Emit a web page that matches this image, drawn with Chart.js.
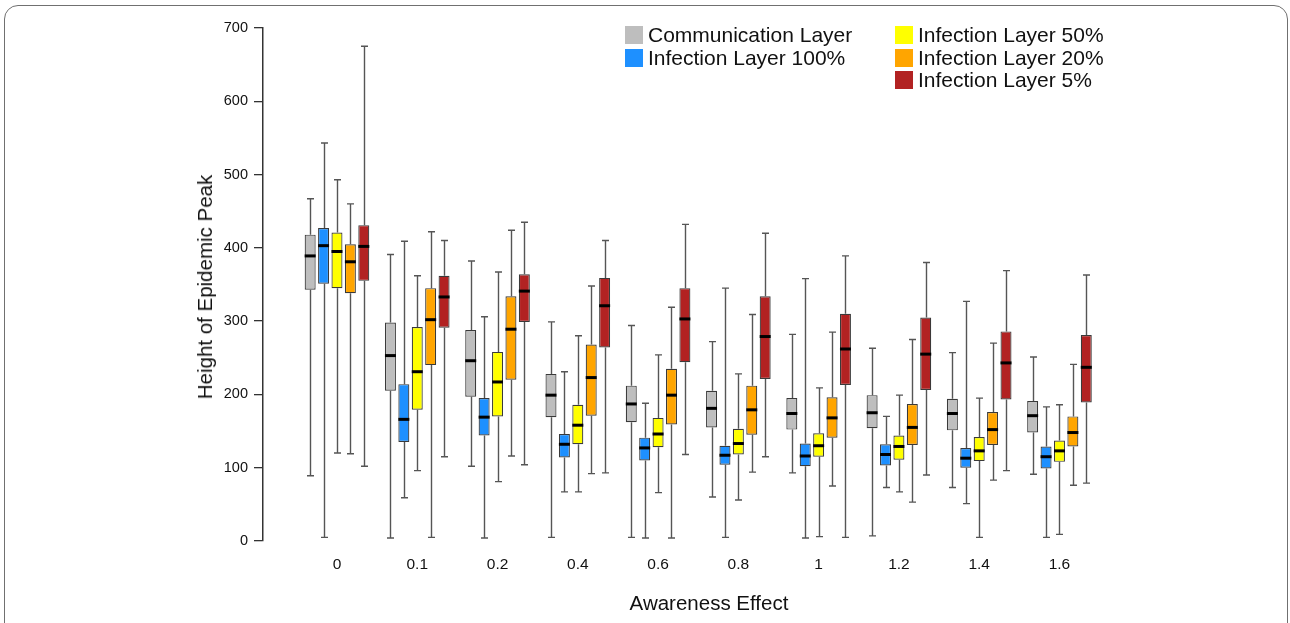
<!DOCTYPE html>
<html>
<head>
<meta charset="utf-8">
<script src="https://cdn.jsdelivr.net/npm/chart.js@4.4.1/dist/chart.umd.min.js"></script>
<style>
  html, body { margin: 0; padding: 0; background: #fff; }
  body { width: 1290px; height: 623px; position: relative; overflow: hidden; font-family: "Liberation Sans", Arial, sans-serif; }
  #frame { position: absolute; left: 4px; top: 5px; width: 1282px; height: 700px; border: 1.5px solid #707070; border-radius: 14px; }
  #peakChart { position: absolute; left: 0; top: 0; }
  .axisTitle { position: absolute; font-size: 20.5px; color: #111; white-space: nowrap; }
  #yTitle { left: 205px; top: 287px; transform: translate(-50%, -50%) rotate(-90deg); }
  #xTitle { left: 709px; top: 603px; transform: translate(-50%, -50%); }
  .legendCol { position: absolute; top: 24px; }
  .legendItem { display: flex; align-items: center; height: 22.6px; font-size: 21px; color: #111; white-space: nowrap; }
  .legendItem span.swatch { display: inline-block; width: 18px; height: 18px; margin-right: 5px; }
</style>
</head>
<body>
<div id="frame"></div>
<canvas id="peakChart" width="1290" height="623"></canvas>
<div class="axisTitle" id="yTitle">Height of Epidemic Peak</div>
<div class="axisTitle" id="xTitle">Awareness Effect</div>
<div class="legendCol" id="legendLeft" style="left:625px"></div>
<div class="legendCol" id="legendRight" style="left:895px"></div>
<script>
// awareness effect values on the x axis
const awareness = ['0', '0.1', '0.2', '0.4', '0.6', '0.8', '1', '1.2', '1.4', '1.6'];

// each entry: [whisker low, q1, median, q3, whisker high]
const communicationLayer = [
  [89, 343, 389, 418, 467], [4, 205, 253, 298, 391], [102, 197, 246, 288, 382],
  [5, 169, 199, 228, 299], [5, 162, 187, 212, 294], [60, 155, 181, 205, 272],
  [93, 152, 174, 195, 282], [7, 154, 175, 199, 263], [73, 151, 174, 194, 257],
  [91, 148, 171, 191, 251]
];
const infection100 = [
  [5, 351, 403, 427, 543], [59, 135, 166, 214, 409], [4, 144, 169, 195, 306],
  [67, 114, 132, 146, 231], [4, 110, 127, 141, 188], [5, 104, 117, 130, 345],
  [4, 102, 116, 133, 358], [73, 103, 118, 132, 170], [51, 100, 113, 127, 327],
  [5, 99, 115, 129, 183]
];
const infection50 = [
  [120, 345, 395, 421, 493], [96, 179, 231, 292, 362], [81, 170, 217, 258, 367],
  [67, 132, 158, 186, 280], [66, 128, 146, 168, 254], [56, 118, 133, 153, 228],
  [6, 115, 130, 147, 209], [67, 111, 129, 144, 199], [5, 109, 123, 142, 195],
  [9, 108, 123, 137, 186]
];
const infection20 = [
  [119, 338, 381, 405, 460], [5, 240, 302, 345, 422], [116, 220, 289, 334, 424],
  [92, 171, 223, 268, 348], [4, 159, 199, 235, 319], [94, 145, 179, 212, 309],
  [75, 141, 168, 196, 285], [53, 131, 155, 187, 275], [83, 131, 152, 176, 270],
  [76, 129, 148, 170, 241]
];
const infection5 = [
  [102, 355, 402, 431, 675], [115, 291, 333, 362, 410], [104, 299, 341, 364, 435],
  [93, 264, 321, 359, 410], [118, 244, 303, 345, 432], [115, 221, 279, 334, 420],
  [5, 213, 262, 310, 389], [90, 206, 255, 305, 380], [96, 193, 243, 286, 369],
  [79, 189, 237, 281, 363]
];

const seriesNames = ['Communication Layer', 'Infection Layer 100%', 'Infection Layer 50%', 'Infection Layer 20%', 'Infection Layer 5%'];
const seriesColors = ['#bebebe', '#1e90ff', '#ffff00', '#ffa500', '#b22222'];
const seriesStats = [communicationLayer, infection100, infection50, infection20, infection5];

// legend: two columns like the original
seriesNames.forEach((name, i) => {
  const col = document.getElementById(i < 2 ? 'legendLeft' : 'legendRight');
  const item = document.createElement('div');
  item.className = 'legendItem';
  item.innerHTML = `<span class="swatch" style="background:${seriesColors[i]}"></span>${name}`;
  col.appendChild(item);
});

// whiskers under the boxes, medians on top
const boxPlotParts = {
  id: 'boxPlotParts',
  beforeDatasetsDraw(chart) {
    const ctx = chart.ctx;
    const yScale = chart.scales.y;
    ctx.save();
    ctx.strokeStyle = '#555';
    ctx.lineWidth = 1.4;
    chart.data.datasets.forEach((ds, d) => {
      chart.getDatasetMeta(d).data.forEach((bar, i) => {
        const s = ds.stats[i];
        const x = Math.round(bar.x) + 0.5;
        const yLow = yScale.getPixelForValue(s[0]);
        const yHigh = yScale.getPixelForValue(s[4]);
        const yQ1 = yScale.getPixelForValue(s[1]);
        const yQ3 = yScale.getPixelForValue(s[3]);
        ctx.beginPath();
        ctx.moveTo(x, yQ1); ctx.lineTo(x, yLow);
        ctx.moveTo(x, yQ3); ctx.lineTo(x, yHigh);
        ctx.moveTo(x - 3.5, yLow); ctx.lineTo(x + 3.5, yLow);
        ctx.moveTo(x - 3.5, yHigh); ctx.lineTo(x + 3.5, yHigh);
        ctx.stroke();
      });
    });
    ctx.restore();
  },
  afterDatasetsDraw(chart) {
    const ctx = chart.ctx;
    const yScale = chart.scales.y;
    ctx.save();
    ctx.strokeStyle = '#000';
    ctx.lineWidth = 3;
    chart.data.datasets.forEach((ds, d) => {
      chart.getDatasetMeta(d).data.forEach((bar, i) => {
        const y = yScale.getPixelForValue(ds.stats[i][2]);
        ctx.beginPath();
        ctx.moveTo(bar.x - bar.width / 2, y);
        ctx.lineTo(bar.x + bar.width / 2, y);
        ctx.stroke();
      });
    });
    ctx.restore();
  }
};

const datasets = seriesStats.map((stats, k) => ({
  label: seriesNames[k],
  data: stats.map((s, i) => ({ x: i, y: [s[1], s[3]] })),
  stats: stats,
  backgroundColor: seriesColors[k],
  borderColor: '#3a3a3a',
  borderWidth: 1.2,
  borderSkipped: false,
  categoryPercentage: 0.835,
  barPercentage: 0.82
}));

new Chart(document.getElementById('peakChart'), {
  type: 'bar',
  data: { datasets },
  options: {
    responsive: false,
    animation: false,
    devicePixelRatio: 1,
    layout: { padding: { left: 200, right: 135, top: 28, bottom: 42 } },
    plugins: { legend: { display: false }, tooltip: { enabled: false } },
    scales: {
      x: {
        type: 'linear',
        offset: false,
        min: -0.9215,
        max: 10.19,
        afterBuildTicks: (s) => { s.ticks = awareness.map((a, i) => ({ value: i })); },
        afterFit: (s) => { s.height = 40; },
        grid: { display: false },
        border: { display: false },
        ticks: {
          autoSkip: false,
          maxRotation: 0,
          padding: 6,
          color: '#111',
          font: { family: 'Liberation Sans', size: 15.5 },
          callback: (v) => awareness[v]
        }
      },
      y: {
        min: 0,
        max: 700,
        afterFit: (s) => { s.width = 63; },
        grid: { drawOnChartArea: false, drawTicks: true, tickLength: 9, color: '#333', lineWidth: 1.3 },
        border: { display: true, color: '#333', width: 1.5 },
        ticks: {
          stepSize: 100,
          padding: 6,
          color: '#111',
          font: { family: 'Liberation Sans', size: 14.5 }
        }
      }
    }
  },
  plugins: [boxPlotParts]
});
</script>
</body>
</html>
